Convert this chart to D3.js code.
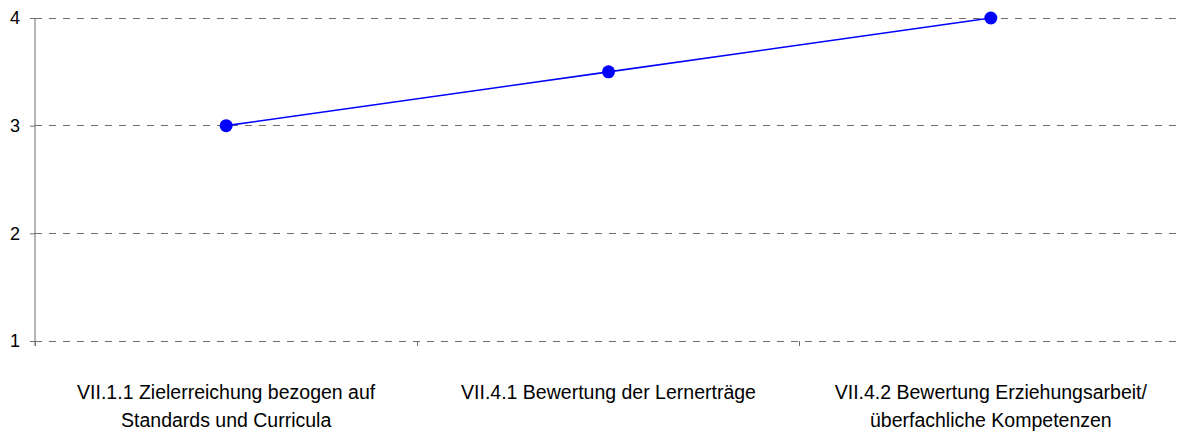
<!DOCTYPE html>
<html><head><meta charset="utf-8">
<script src="https://cdn.jsdelivr.net/npm/d3@7"></script>
<style>body{margin:0;background:#fff;} svg{display:block;font-family:"Liberation Sans",Arial,sans-serif;}</style>
</head><body>
<svg id="c" width="1177" height="432"></svg>
<script>
const categories = [
  ["VII.1.1 Zielerreichung bezogen auf", "Standards und Curricula"],
  ["VII.4.1 Bewertung der Lernerträge"],
  ["VII.4.2 Bewertung Erziehungsarbeit/", "überfachliche Kompetenzen"]
];
const categoryKeys = ["c1", "c2", "c3"];
const values = [3, 3.5, 4];
const yTicks = [1, 2, 3, 4];

const svg = d3.select("#c");
const x = d3.scaleBand().domain(categoryKeys).range([35, 1182]).padding(0);
const y = d3.scaleLinear().domain([1, 4]).range([341, 18]);

// gridlines
svg.append("g").selectAll("line").data(yTicks).join("line")
  .attr("x1", 35).attr("x2", 1177)
  .attr("y1", d => y(d)).attr("y2", d => y(d))
  .attr("stroke", "#6e6e6e").attr("stroke-width", 1)
  .attr("stroke-dasharray", "7,7")
  .attr("shape-rendering", "crispEdges");

// y axis
const ya = svg.append("g").attr("transform", "translate(35,0)")
  .call(d3.axisLeft(y).tickValues(yTicks).tickFormat(d3.format("d")).tickSize(5).tickPadding(10));
ya.select(".domain").attr("stroke", "#6e6e6e").attr("d", `M0,${y(4)}V${y(1)+5}`);
ya.selectAll(".tick line").attr("stroke", "#6e6e6e");
ya.selectAll(".tick text").attr("font-size", 18).attr("fill", "#000").attr("font-family", "Liberation Sans, Arial, sans-serif");

// x ticks (band boundaries)
const bounds = categoryKeys.map(k => x(k)).concat([x(categoryKeys[categoryKeys.length-1]) + x.bandwidth()]);
svg.append("g").selectAll("line").data(bounds).join("line")
  .attr("x1", d => d).attr("x2", d => d)
  .attr("y1", y(1)).attr("y2", y(1) + 5)
  .attr("stroke", "#6e6e6e").attr("shape-rendering", "crispEdges");

// category labels
const lab = svg.append("g").selectAll("text").data(categories).join("text")
  .attr("text-anchor", "middle").attr("font-size", 19.5).attr("fill", "#000")
  .attr("x", (d, i) => x(categoryKeys[i]) + x.bandwidth() / 2)
  .attr("y", 399);
lab.selectAll("tspan").data(d => d).join("tspan")
  .attr("x", function() { return d3.select(this.parentNode).attr("x"); })
  .attr("dy", (d, i) => i === 0 ? 0 : 28)
  .text(d => d);

// line
const line = d3.line().x((d, i) => x(categoryKeys[i]) + x.bandwidth() / 2).y(d => y(d));
svg.append("path").datum(values).attr("d", line)
  .attr("fill", "none").attr("stroke", "#0000ff").attr("stroke-width", 1.6);
svg.append("g").selectAll("circle").data(values).join("circle")
  .attr("cx", (d, i) => x(categoryKeys[i]) + x.bandwidth() / 2)
  .attr("cy", d => y(d)).attr("r", 6.5).attr("fill", "#0000ff");
</script>
</body></html>
